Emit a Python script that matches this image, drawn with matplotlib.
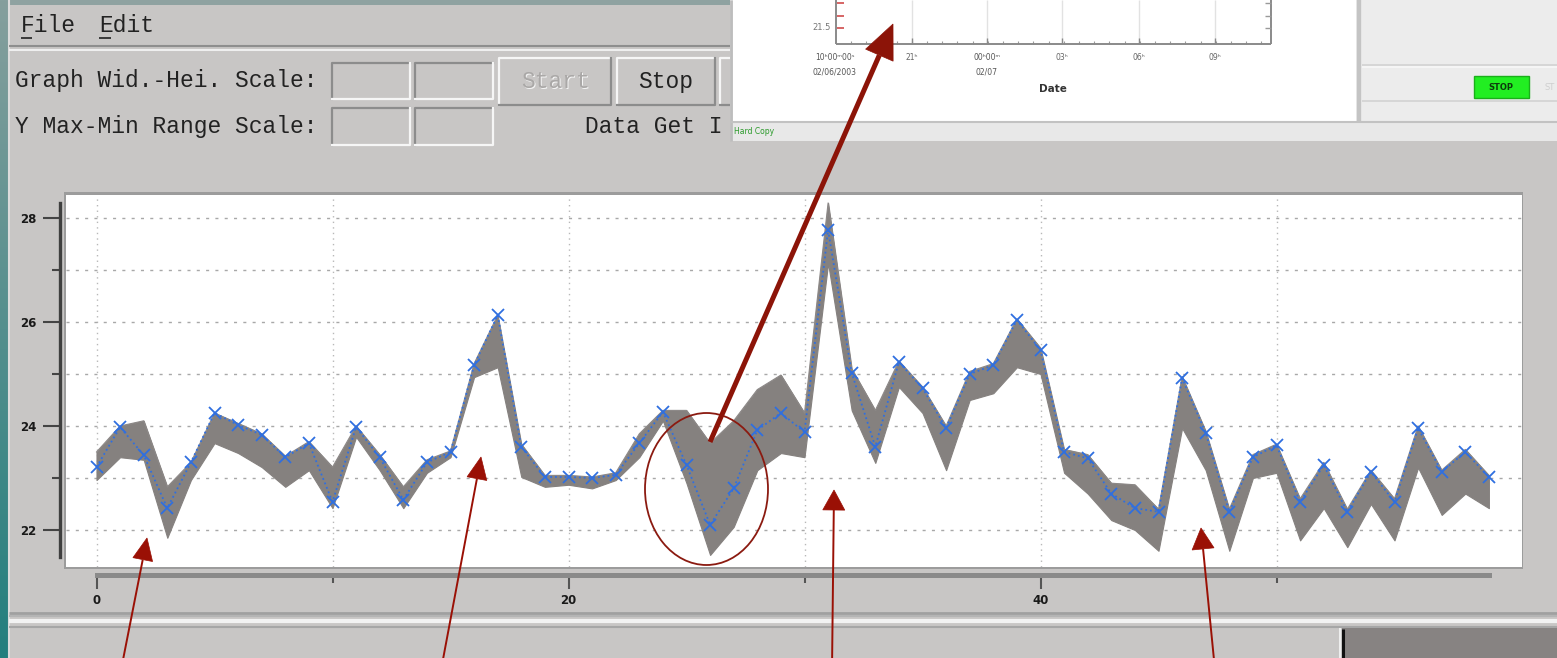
import numpy as np
import matplotlib.pyplot as plt
from matplotlib.patches import Rectangle, Ellipse, Polygon
from matplotlib.colors import LinearSegmentedColormap

# sample index along the x axis
idx = np.arange(60)

# newest trace (blue, with x markers)
latest = [23.21, 23.98, 23.44, 22.42, 23.30, 24.25, 24.02, 23.83, 23.40, 23.67,
          22.54, 23.98, 23.40, 22.58, 23.30, 23.50, 25.17, 26.13, 23.60, 23.02,
          23.02, 23.00, 23.06, 23.67, 24.27, 23.25, 22.10, 22.80, 23.92, 24.25,
          23.88, 27.77, 25.02, 23.60, 25.23, 24.73, 23.96, 25.00, 25.17, 26.04,
          25.46, 23.50, 23.38, 22.70, 22.42, 22.35, 24.92, 23.87, 22.35, 23.40,
          23.63, 22.54, 23.25, 22.35, 23.12, 22.54, 23.96, 23.12, 23.50, 23.02]
# upper / lower edge of the grey bundle of older traces
band_hi = [23.50, 24.00, 24.10, 22.83, 23.30, 24.25, 24.05, 23.85, 23.42, 23.70,
           23.21, 24.00, 23.45, 22.83, 23.35, 23.52, 25.20, 26.13, 23.65, 23.05,
           23.05, 23.02, 23.10, 23.85, 24.30, 24.30, 23.67, 24.10, 24.70, 24.98,
           24.25, 28.29, 25.10, 24.30, 25.25, 24.75, 24.00, 25.05, 25.20, 26.06,
           25.50, 23.55, 23.45, 22.90, 22.87, 22.40, 24.95, 23.90, 22.40, 23.45,
           23.65, 22.60, 23.30, 22.40, 23.15, 22.60, 24.00, 23.15, 23.55, 23.05]
band_lo = [22.96, 23.40, 23.35, 21.85, 22.96, 23.67, 23.48, 23.21, 22.83, 23.15,
           22.42, 23.79, 23.15, 22.42, 23.10, 23.40, 24.94, 25.13, 23.02, 22.83,
           22.87, 22.80, 22.96, 23.40, 24.10, 22.90, 21.52, 22.06, 23.15, 23.48,
           23.40, 27.13, 24.30, 23.29, 24.75, 24.25, 23.15, 24.50, 24.63, 25.13,
           25.00, 23.10, 22.70, 22.19, 22.00, 21.60, 23.96, 23.15, 21.60, 23.00,
           23.10, 21.80, 22.42, 21.67, 22.50, 21.80, 23.20, 22.29, 22.70, 22.42]

y_ticks = [22, 24, 26, 28]
y_minor = [23, 25, 27]
x_ticks = [0, 20, 40]
x_minor = [10, 30, 50]

W, H = 1557, 658
BG = '#c8c6c5'
MONO = 'Liberation Mono'

fig = plt.figure(figsize=(W / 100, H / 100), dpi=100)
fig.patch.set_facecolor(BG)

# full-figure axes in pixel coordinates for the window decoration
bg = fig.add_axes([0, 0, 1, 1], zorder=0)
bg.axis('off')


def rect(x0, y0, x1, y1, fc, z=1, ec='none', lw=0):
    bg.add_patch(Rectangle((x0, y0), x1 - x0, y1 - y0, fc=fc, ec=ec, lw=lw, zorder=z))


def hline(y, x0, x1, c, lw=1.5, z=2):
    bg.plot([x0, x1], [y, y], color=c, lw=lw, zorder=z, solid_capstyle='butt')


def vline(x, y0, y1, c, lw=1.5, z=2):
    bg.plot([x, x], [y0, y1], color=c, lw=lw, zorder=z, solid_capstyle='butt')


def bevel(x0, y0, x1, y1, sunken, z=2):
    rect(x0, y0, x1, y1, BG, z)
    dark, light = '#8c8c8c', '#f6f6f6'
    tl, br = (dark, light) if sunken else (light, dark)
    bg.plot([x0, x0, x1], [y1, y0, y0], color=tl, lw=1.6, zorder=z + 0.1)
    bg.plot([x0, x1, x1], [y1, y1, y0], color=br, lw=1.6, zorder=z + 0.1)


# left teal desktop strip
teal = LinearSegmentedColormap.from_list('teal', ['#859f9d', '#237f7e'])
bg.imshow(np.linspace(0, 1, 256)[:, None], extent=(0, 8, H, 0), cmap=teal,
          aspect='auto', zorder=1)
vline(8.7, 0, H, '#dcdcdc', 1.5)
rect(8, 0, 730, 5, '#8fa2a1')

# menu bar
bg.text(21, 32, 'File', family=MONO, fontsize=16.5, color='#222222', zorder=3)
bg.text(99, 32, 'Edit', family=MONO, fontsize=16.5, color='#222222', zorder=3)
hline(38, 21, 32, '#222222', 1.2)
hline(38, 99, 111, '#222222', 1.2)
hline(46, 9, 730, '#8e8e8e', 1.5)
hline(49.5, 9, 730, '#efefef', 1.5)

# control rows
bg.text(15, 87.5, 'Graph Wid.-Hei. Scale:', family=MONO, fontsize=16.5, color='#222222', zorder=3)
bg.text(15, 133, 'Y Max-Min Range Scale:', family=MONO, fontsize=16.5, color='#222222', zorder=3)
for y0, y1 in [(63, 99), (108, 145)]:
    bevel(332, y0, 410, y1, True)
    bevel(415, y0, 493, y1, True)
bevel(499, 58, 611, 105, False)
bevel(617, 58, 715, 105, False)
bevel(720, 58, 760, 105, False)
bg.text(556, 89, 'Start', family=MONO, fontsize=16.5, color='#f4f4f4', ha='center', zorder=3)
bg.text(555, 88, 'Start', family=MONO, fontsize=16.5, color='#aaa8a7', ha='center', zorder=3.1)
bg.text(666, 88, 'Stop', family=MONO, fontsize=16.5, color='#222222', ha='center', zorder=3)
bg.text(585, 133, 'Data Get I', family=MONO, fontsize=16.5, color='#222222', zorder=3)

# pasted screenshot of the other window (top right)
rect(730, 0, W, 141, '#e8e8e8', 5)
vline(731, 0, 141, '#bdbdbd', 2, 6)
rect(733, 0, 1356, 121, '#ffffff', 5.1)
rect(1362, 0, W, 121, '#ececec', 5.1)
vline(1359, 0, 121, '#c4c4c4', 3, 6)
hline(122, 730, W, '#c2c2c2', 1.5, 6)
hline(65, 1362, W, '#d2d2d2', 1.2, 6)
hline(67, 1362, W, '#f8f8f8', 1.2, 6)
hline(101, 1362, W, '#d2d2d2', 1.2, 6)
rect(1474, 76, 1529, 98, '#22ee22', 6, ec='#1ab01a', lw=1)
bg.text(1501, 87, 'STOP', fontsize=6, fontweight='bold', color='#0c3c0c',
        ha='center', va='center', zorder=7)
bg.text(1545, 87, 'ST', fontsize=6, color='#cfcfcf', va='center', zorder=7)
for gx in [912, 987, 1062, 1139, 1215]:
    vline(gx, 0, 44, '#e2e2e2', 1, 6)
    vline(gx, 38, 44, '#8a8a8a', 1, 6.2)
for tx in np.arange(851, 1268, 15.2):
    vline(tx, 41, 44, '#9a9a9a', 0.8, 6.1)
vline(836, 0, 44, '#8a8a8a', 1.4, 6.3)
vline(1271, 0, 44, '#8a8a8a', 1.4, 6.3)
hline(44, 836, 1271, '#8a8a8a', 1.4, 6.3)
for ty in [3, 16, 28]:
    hline(ty, 837, 844, '#d04a4a', 1.2, 6.4)
    hline(ty, 1265, 1271, '#9a9a9a', 1, 6.4)
bg.text(831, 28, '21.5', fontsize=6, color='#777777', ha='right', va='center', zorder=7)
for gx, top, bottom, c in [(835, '10ʰ00ᵐ00ˢ', '02/06/2003', '#555555'),
                           (912, '21ʰ', '', '#666666'),
                           (987, '00ʰ00ᵐ', '02/07', '#555555'),
                           (1062, '03ʰ', '', '#666666'),
                           (1139, '06ʰ', '', '#666666'),
                           (1215, '09ʰ', '', '#666666')]:
    bg.text(gx, 57, top, fontsize=5.5, color=c, ha='center', va='center', zorder=7)
    if bottom:
        bg.text(gx, 72, bottom, fontsize=5.5, color=c, ha='center', va='center', zorder=7)
bg.text(1053, 89, 'Date', fontsize=7.5, fontweight='bold', color='#333333',
        ha='center', va='center', zorder=7)
bg.text(734, 131, 'Hard Copy', fontsize=5.5, color='#2a9a2a', va='center', zorder=7)

# frame around the white plotting area
rect(64, 191.5, 1523, 568.5, '#9c9c9c', 1)

# status bar at the bottom
hline(613, 9, W, '#a0a0a0', 2)
hline(616, 9, W, '#b4b4b4', 1.5)
hline(621, 9, W, '#f2f2f2', 3)
hline(626.5, 9, W, '#a6a6a6', 1.5)
rect(1342, 628, W, H, '#878382', 2)
vline(1343.5, 629, H, '#111111', 2.2, 3)
vline(1340, 628, H, '#eeeeee', 1.5, 3)

bg.set_xlim(0, W)
bg.set_ylim(H, 0)

# main chart: tick labels are bold
plt.rcParams['font.weight'] = 'bold'
ax = fig.add_axes([66 / W, 1 - 567 / H, (1522 - 66) / W, (567 - 195) / H], zorder=2)
ax.set_facecolor('white')
ax.fill_between(idx, band_lo, band_hi, color='#85817f', lw=0.8, ec='#85817f', zorder=2)
ax.plot(idx, band_hi, color='#8c8887', lw=0.8, zorder=2.1)
ax.plot(idx, latest, ls=':', color='#2f6fe0', lw=1.3, marker='x', ms=8, mew=1.3, zorder=3)

ax.set_xlim((66 - 96.5) / 23.6, (1522 - 96.5) / 23.6)
ax.set_ylim(28 - (567 - 218) / 52, 28 + (218 - 195) / 52)

ax.set_yticks(y_ticks, labels=[str(v) for v in y_ticks])
ax.set_yticks(y_minor, minor=True)
ax.set_xticks(x_ticks, labels=[str(v) for v in x_ticks])
ax.set_xticks(x_minor, minor=True)
ax.tick_params(axis='y', which='major', length=12, width=1.5, color='#444444', pad=5,
               labelcolor='#1a1a1a', labelsize=8.5)
ax.tick_params(axis='y', which='minor', length=6, width=1.5, color='#444444')
ax.tick_params(axis='x', which='major', length=10, width=1.5, color='#555555', pad=4,
               labelcolor='#1a1a1a', labelsize=8.5)
ax.tick_params(axis='x', which='minor', length=6, width=1.5, color='#555555')
for lbl in ax.get_yticklabels() + ax.get_xticklabels():
    lbl.set_fontweight('bold')

ax.spines['top'].set_visible(False)
ax.spines['right'].set_visible(False)
ax.spines['left'].set_position(('outward', 4.5))
ax.spines['left'].set_bounds(21.48, 28.29)
ax.spines['left'].set_linewidth(2.4)
ax.spines['left'].set_color('#3f3f3f')
ax.spines['bottom'].set_position(('outward', 5.4))
ax.spines['bottom'].set_bounds(0, 59.0)
ax.spines['bottom'].set_linewidth(3.6)
ax.spines['bottom'].set_color('#8a8a8a')

ax.grid(which='both', axis='y', color='#a8a8a8', ls=(0, (2.2, 4.5)), lw=1)
ax.grid(which='both', axis='x', color='#b8b8b8', ls=(0, (1, 3)), lw=1)
ax.set_axisbelow(True)

# red annotations drawn over everything
ov = fig.add_axes([0, 0, 1, 1], zorder=5)
ov.set_facecolor('none')
ov.axis('off')
ov.set_xlim(0, W)
ov.set_ylim(H, 0)


def arrow(tail, tip, hl, hw, lw, c):
    tail, tip = np.array(tail, float), np.array(tip, float)
    u = (tip - tail) / np.hypot(*(tip - tail))
    n = np.array([-u[1], u[0]])
    base = tip - u * hl
    ov.plot([tail[0], base[0]], [tail[1], base[1]], color=c, lw=lw, solid_capstyle='butt')
    ov.add_patch(Polygon([tip, base + n * hw / 2, base - n * hw / 2], closed=True,
                         fc=c, ec=c, lw=0.5))


arrow((710, 442), (893, 24), 34, 30, 3.6, '#8c1408')
arrow((121, 670), (147, 538), 22, 20, 1.4, '#9a1005')
arrow((441, 670), (481, 457), 22, 20, 1.4, '#9a1005')
arrow((832, 670), (834, 490), 20, 22, 1.4, '#9a1005')
arrow((1215, 670), (1201, 528), 21, 22, 1.4, '#9a1005')
ov.add_patch(Ellipse((706.5, 489), 123, 152, fc='none', ec='#8b1a10', lw=1.3))

fig.savefig('out.png', dpi=100, facecolor=fig.get_facecolor())
